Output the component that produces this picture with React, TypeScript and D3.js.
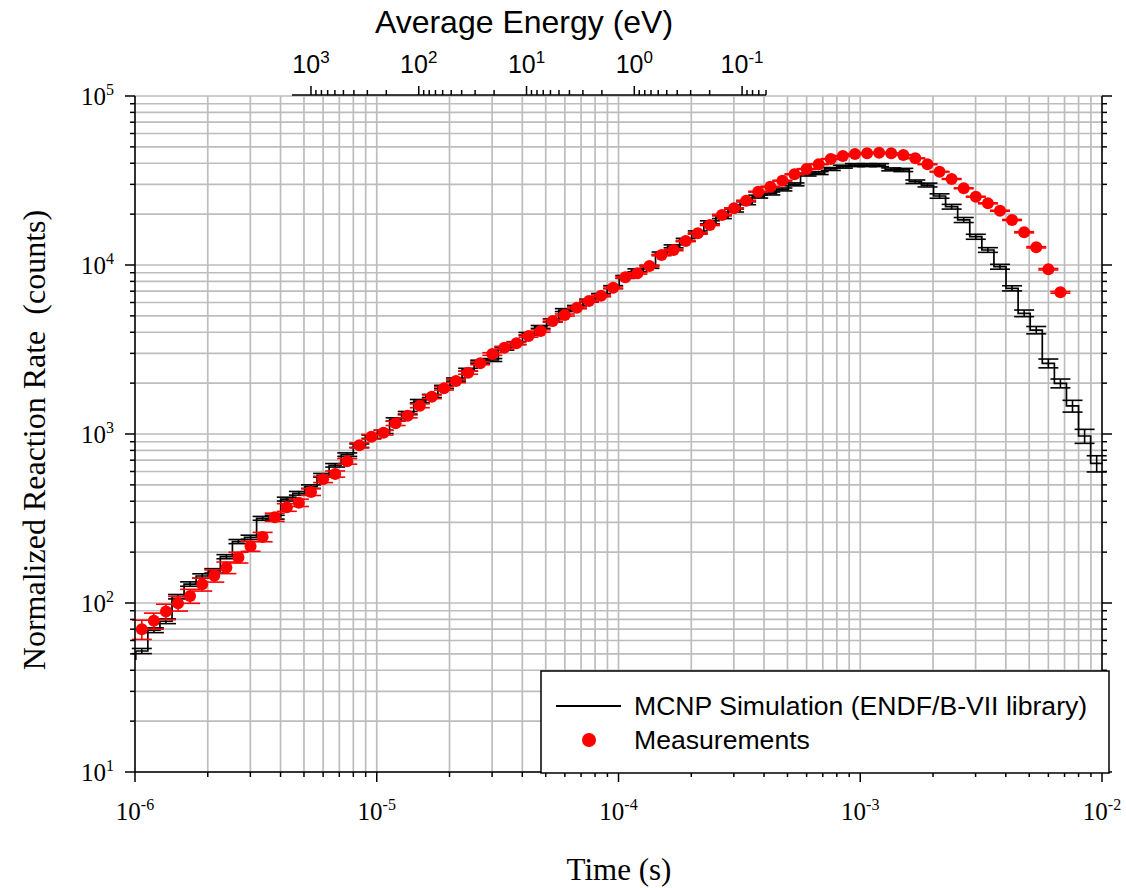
import React from "react";
import * as d3 from "d3";

// Bin centre times (s)
const timeS = [
  1.067e-6, 1.197e-6, 1.343e-6, 1.507e-6, 1.69e-6, 1.897e-6, 2.128e-6, 2.388e-6, 2.679e-6, 3.006e-6,
  3.373e-6, 3.784e-6, 4.246e-6, 4.764e-6, 5.346e-6, 5.998e-6, 6.73e-6, 7.551e-6, 8.472e-6, 9.506e-6,
  1.067e-5, 1.197e-5, 1.343e-5, 1.507e-5, 1.69e-5, 1.897e-5, 2.128e-5, 2.388e-5, 2.679e-5, 3.006e-5,
  3.373e-5, 3.784e-5, 4.246e-5, 4.764e-5, 5.346e-5, 5.998e-5, 6.73e-5, 7.551e-5, 8.472e-5, 9.506e-5,
  1.067e-4, 1.197e-4, 1.343e-4, 1.507e-4, 1.69e-4, 1.897e-4, 2.128e-4, 2.388e-4, 2.679e-4, 3.006e-4,
  3.373e-4, 3.784e-4, 4.246e-4, 4.764e-4, 5.346e-4, 5.998e-4, 6.73e-4, 7.551e-4, 8.472e-4, 9.506e-4,
  1.067e-3, 1.197e-3, 1.343e-3, 1.507e-3, 1.69e-3, 1.897e-3, 2.128e-3, 2.388e-3, 2.679e-3, 3.006e-3,
  3.373e-3, 3.784e-3, 4.246e-3, 4.764e-3, 5.346e-3, 5.998e-3, 6.73e-3, 7.551e-3, 8.472e-3, 9.506e-3,
];

// Measurements (counts), one per bin for the first 77 bins
const measured = [
  70, 78.5, 89, 99.5, 110, 129, 145, 162, 186, 217, 246, 322, 368, 392, 454, 539, 580, 689, 857, 964,
  1018, 1156, 1282, 1469, 1660, 1862, 2059, 2306, 2620, 2974, 3243, 3443, 3802, 4067, 4665, 5058, 5589, 6123, 6580, 7340,
  8460, 8930, 9860, 11450, 12270, 13870, 15400, 17250, 19770, 21650, 24000, 27150, 29060, 31540, 34400, 36980, 39450, 42400, 44150, 45370,
  45800, 46200, 45800, 44770, 42800, 39450, 35650, 32280, 28440, 25360, 23170, 20940, 18470, 15620, 12730, 9440, 6890,
];
// Measurement uncertainty (%)
const measuredErr = [
  13, 11, 10.5, 10, 9.5, 8.8, 8.3, 7.9, 7.3, 6.8, 6.4, 5.6, 5.2, 5, 4.7, 4.3, 4.2, 3.8, 3.4, 3.2,
  3.1, 2.9, 2.8, 2.6, 2.5, 2.3, 2.2, 2.1, 2, 1.8, 1.8, 1.7, 1.6, 1.6, 1.5, 1.4, 1.3, 1.3, 1.2, 1.2,
  1.1, 1.1, 1, 1, 1, 0.9, 0.9, 0.8, 0.8, 0.7, 0.7, 0.6, 0.6, 0.6, 0.6, 0.5, 0.5, 0.5, 0.5, 0.5,
  0.5, 0.5, 0.5, 0.5, 0.5, 0.5, 0.5, 0.6, 0.6, 0.6, 0.7, 0.7, 0.7, 0.8, 0.9, 1, 1.2,
];

// MCNP simulation (counts), one per bin
const mcnpStart = 46;
const mcnp = [
  52, 69, 78, 109, 129.5, 144.5, 155, 188, 231, 245, 317, 322, 412, 446, 488, 570, 653, 755, 853, 964,
  1030, 1220, 1330, 1566, 1680, 1900, 2100, 2400, 2680, 2740, 3200, 3450, 3910, 4300, 4700, 5410, 5650, 6150, 6650, 7400,
  8500, 9300, 9750, 11700, 12900, 14100, 15600, 17900, 19200, 21000, 23200, 25400, 26500, 28000, 30000, 34300, 35000, 37000, 38200, 39000,
  39000, 39000, 36800, 36500, 31100, 29730, 25600, 22130, 18470, 14700, 12270, 9770, 7280, 5180, 4120, 2620, 1995, 1465, 973, 670,
];
// MCNP statistical uncertainty (%)
const mcnpErr = [
  3.5, 3.2, 3.2, 3, 3, 3, 3, 2.8, 2.8, 2.8, 2.6, 2.6, 2.6, 2.5, 2.5, 2.5, 2.4, 2.4, 2.4, 2.3,
  2.3, 2.2, 2.2, 2.2, 2.1, 2.1, 2.1, 2, 2, 2, 2, 2, 2, 2, 2, 2, 2, 2, 2, 2,
  2, 2, 2, 2, 2, 2, 2, 2, 2, 2, 2, 2, 2, 2, 2, 2, 2, 2, 2, 2,
  2, 2, 2, 2.2, 2.4, 2.6, 3, 3.2, 3.4, 3.4, 3.2, 3.3, 3.5, 4.5, 5, 6, 6, 8, 9.5, 11,
];

const xTickExps = [-6, -5, -4, -3, -2];
const yTickExps = [1, 2, 3, 4, 5];
const energyTickExps = [3, 2, 1, 0, -1];

const SANS = "'Liberation Sans', Arial, sans-serif";
const SERIF = "'Liberation Serif', 'Times New Roman', serif";

export default function App() {
  const W = 1126, H = 888;
  const L = 135, R = 1102, T = 96, B = 772;
  const x = d3.scaleLog().domain([1e-6, 1e-2]).range([L, R]);
  const y = d3.scaleLog().domain([1e1, 1e5]).range([B, T]);
  const xE = d3.scaleLog().domain([1500, 0.06]).range([292, 766]);
  const EY = 95;

  const xMinor: number[] = [];
  for (let k = -6; k <= -3; k++) for (let m = 1; m <= 9; m++) xMinor.push(m * Math.pow(10, k));
  xMinor.push(1e-2);
  const yMinor: number[] = [];
  for (let k = 1; k <= 4; k++) for (let m = 1; m <= 9; m++) yMinor.push(m * Math.pow(10, k));
  yMinor.push(1e5);
  const eMinor: number[] = [];
  for (let k = -2; k <= 3; k++) for (let m = 1; m <= 9; m++) {
    const v = m * Math.pow(10, k);
    if (v >= 0.06 && v <= 1500) eMinor.push(v);
  }

  // bin edges for the histogram
  const n = mcnp.length;
  const tt = timeS.slice(0, n);
  const edges: number[] = [];
  edges.push(tt[0] / Math.sqrt(tt[1] / tt[0]));
  for (let i = 1; i < n; i++) edges.push(Math.sqrt(tt[i - 1] * tt[i]));
  edges.push(tt[n - 1] * Math.sqrt(tt[n - 1] / tt[n - 2]));
  let stepD = `M${x(edges[0])},${y(mcnpStart)}`;
  for (let i = 0; i < n; i++) {
    stepD += `V${y(mcnp[i])}H${x(edges[i + 1])}`;
  }

  const cap = 10;
  const grid = "#bdbdbd";

  return (
    <svg width={W} height={H} style={{ position: "absolute", left: 0, top: 0, background: "#fff" }}>
      <rect x={0} y={0} width={W} height={H} fill="#fff" />
      {/* gridlines */}
      <g stroke={grid} strokeWidth={1.7}>
        {xMinor.map((v, i) => (
          <line key={"gx" + i} x1={x(v)} x2={x(v)} y1={T} y2={B} />
        ))}
        {yMinor.map((v, i) => (
          <line key={"gy" + i} x1={L} x2={R} y1={y(v)} y2={y(v)} />
        ))}
      </g>

      {/* MCNP histogram */}
      <path d={stepD} fill="none" stroke="#000" strokeWidth={1.7} />
      <g stroke="#000" strokeWidth={1.6}>
        {mcnp.map((v, i) => {
          const cx = x(tt[i]);
          const hi = y(v * (1 + mcnpErr[i] / 100));
          const lo = y(v * (1 - mcnpErr[i] / 100));
          return (
            <g key={"me" + i}>
              <line x1={cx} x2={cx} y1={hi} y2={lo} />
              <line x1={cx - cap} x2={cx + cap} y1={hi} y2={hi} />
              <line x1={cx - cap} x2={cx + cap} y1={lo} y2={lo} />
            </g>
          );
        })}
      </g>

      {/* measurements */}
      <g stroke="#ff0000" strokeWidth={1.6}>
        {measured.map((v, i) => {
          const cx = x(timeS[i]);
          const hi = y(v * (1 + measuredErr[i] / 100));
          const lo = y(v * (1 - measuredErr[i] / 100));
          return (
            <g key={"re" + i}>
              <line x1={cx} x2={cx} y1={hi} y2={lo} />
              <line x1={cx - cap} x2={cx + cap} y1={hi} y2={hi} />
              <line x1={cx - cap} x2={cx + cap} y1={lo} y2={lo} />
            </g>
          );
        })}
      </g>
      <g fill="#ff0000">
        {measured.map((v, i) => (
          <circle key={"rd" + i} cx={x(timeS[i])} cy={y(v)} r={6} />
        ))}
      </g>

      {/* axes */}
      <g stroke="#000" strokeWidth={1.5}>
        <line x1={L} x2={L} y1={T} y2={B} />
        <line x1={R} x2={R} y1={T} y2={B} />
        <line x1={L} x2={R} y1={B} y2={B} />
        {yMinor.map((v, i) => {
          const major = Math.abs(Math.log10(v) - Math.round(Math.log10(v))) < 1e-9;
          const len = major ? 10 : 5;
          return (
            <g key={"yt" + i}>
              <line x1={L - len} x2={L} y1={y(v)} y2={y(v)} />
              <line x1={R} x2={R + len} y1={y(v)} y2={y(v)} />
            </g>
          );
        })}
        {xMinor.map((v, i) => {
          const major = Math.abs(Math.log10(v) - Math.round(Math.log10(v))) < 1e-9;
          const len = major ? 10 : 5;
          return <line key={"xt" + i} x1={x(v)} x2={x(v)} y1={B} y2={B + len} />;
        })}
        {/* energy axis */}
        <line x1={xE(1500)} x2={xE(0.06)} y1={EY} y2={EY} />
        {eMinor.map((v, i) => {
          const major = Math.abs(Math.log10(v) - Math.round(Math.log10(v))) < 1e-9;
          const len = major ? 9 : 5;
          return <line key={"et" + i} x1={xE(v)} x2={xE(v)} y1={EY - len} y2={EY} />;
        })}
      </g>

      {/* tick labels */}
      <g fontFamily={SERIF} fontSize={25} fill="#000">
        {yTickExps.map((e) => (
          <text key={"yl" + e} x={114} y={y(Math.pow(10, e)) + 8.5} textAnchor="end">
            10<tspan dy={-10} fontSize={16}>{e}</tspan>
          </text>
        ))}
        {xTickExps.map((e) => (
          <text key={"xl" + e} x={x(Math.pow(10, e))} y={820} textAnchor="middle">
            10<tspan dy={-10} fontSize={16}>{e}</tspan>
          </text>
        ))}
      </g>
      <g fontFamily={SANS} fontSize={25} fill="#000">
        {energyTickExps.map((e) => (
          <text key={"el" + e} x={xE(Math.pow(10, e))} y={73} textAnchor="middle">
            10<tspan dy={-10} fontSize={17}>{e}</tspan>
          </text>
        ))}
      </g>

      {/* titles */}
      <text x={524} y={33} textAnchor="middle" fontFamily={SANS} fontSize={32}>Average Energy (eV)</text>
      <text x={619} y={880} textAnchor="middle" fontFamily={SERIF} fontSize={31}>Time (s)</text>
      <text transform="translate(45,440) rotate(-90)" textAnchor="middle" fontFamily={SERIF} fontSize={32}>
        Normalized Reaction Rate{"\u00a0\u00a0"}(counts)
      </text>

      {/* legend */}
      <rect x={541} y={671} width={568} height={102} fill="#fff" stroke="#000" strokeWidth={1.5} />
      <line x1={556} x2={621} y1={706} y2={706} stroke="#000" strokeWidth={2} />
      <circle cx={589} cy={740} r={7} fill="#ff0000" />
      <g fontFamily={SANS} fontSize={26.6} fill="#000">
        <text x={634} y={715}>MCNP Simulation (ENDF/B-VII library)</text>
        <text x={634} y={749}>Measurements</text>
      </g>
    </svg>
  );
}
